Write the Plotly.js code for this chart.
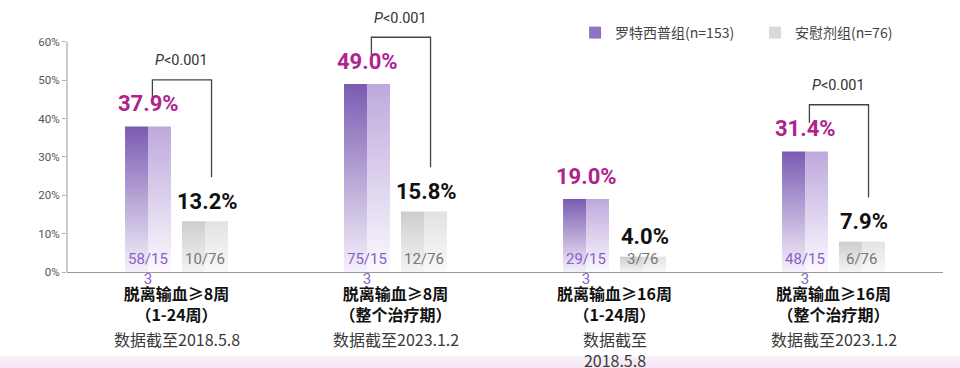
<!DOCTYPE html>
<html><head><meta charset="utf-8">
<script src="https://cdn.plot.ly/plotly-3.0.1.min.js"></script>
<style>
html,body{margin:0;padding:0;width:960px;height:368px;overflow:hidden;
background:linear-gradient(to bottom,#ffffff 0px,#ffffff 355px,#f8eff8 357px,#f3e7f3 368px);}
#chart{width:960px;height:368px;}
</style></head><body><div id="chart"></div>
<script>
const categories = ['脱离输血≥8周<br>（1-24周）','脱离输血≥8周<br>（整个治疗期）','脱离输血≥16周<br>（1-24周）','脱离输血≥16周<br>（整个治疗期）'];
const cutoffLabels = ['数据截至2018.5.8','数据截至2023.1.2','数据截至<br>2018.5.8','数据截至2023.1.2'];
const seriesNames = ['罗特西普组(n=153)','安慰剂组(n=76)'];
const luspaterceptPct = [37.9, 49.0, 19.0, 31.4];
const placeboPct = [13.2, 15.8, 4.0, 7.9];
const luspaterceptN = [58, 75, 29, 48];
const placeboN = [10, 12, 3, 6];
const luspaterceptTotal = 153;
const placeboTotal = 76;
const pValues = ['P<0.001', 'P<0.001', '', 'P<0.001'];
const yTicks = [0, 10, 20, 30, 40, 50, 60];

const idx = categories.map((c, i) => i);
const W = 0.105;
function barTrace(y, offset, color, name, showlegend) {
  return {type: 'bar', x: idx, y: y, offset: offset, width: W,
    marker: {color: color, line: {width: 0}}, name: name, showlegend: showlegend,
    legendgroup: name, hoverinfo: 'skip'};
}
const data = [
  barTrace(luspaterceptPct, -0.235, '#8f74c4', seriesNames[0], true),
  barTrace(luspaterceptPct, -0.13, '#c4b4e0', seriesNames[0], false),
  barTrace(placeboPct, 0.025, '#d9d9d9', seriesNames[1], true),
  barTrace(placeboPct, 0.13, '#e6e6e6', seriesNames[1], false)
];

function wrapFrac(t) { return t.length > 5 ? t.slice(0, 5) + '<br>' + t.slice(5) : t; }
const numFont = 'Roboto, "Noto Sans", sans-serif';
const annotations = [];
const shapes = [];
idx.forEach(i => {
  const a = luspaterceptPct[i], b = placeboPct[i];
  annotations.push({x: i - 0.13, y: a, xref: 'x', yref: 'y', yshift: 23, yanchor: 'middle', showarrow: false,
    text: a.toFixed(1) + '%', font: {family: numFont, size: 22, color: '#b0238f', weight: 'bold'}});
  annotations.push({x: i + 0.14, y: b, xref: 'x', yref: 'y', yshift: 20, yanchor: 'middle', showarrow: false,
    text: b.toFixed(1) + '%', font: {family: numFont, size: 22, color: '#111111', weight: 'bold'}});
  annotations.push({x: i - 0.13, y: 0, xref: 'x', yref: 'y', yshift: 23, yanchor: 'top', showarrow: false, borderpad: 0,
    text: wrapFrac(luspaterceptN[i] + '/' + luspaterceptTotal), font: {family: numFont, size: 15, color: '#8a5fc6'}});
  annotations.push({x: i + 0.13, y: 0, xref: 'x', yref: 'y', yshift: 23, yanchor: 'top', showarrow: false, borderpad: 0,
    text: wrapFrac(placeboN[i] + '/' + placeboTotal), font: {family: numFont, size: 15, color: '#777777'}});
  annotations.push({x: i, y: 0, xref: 'x', yref: 'paper', yshift: -53, yanchor: 'top', showarrow: false,
    text: cutoffLabels[i], font: {size: 16, color: '#3a3a3a'}});
  if (pValues[i]) {
    const top = Math.max(a, b) + 12.2;
    const lx = i - 0.11, rx = i + 0.16;
    shapes.push({type: 'path', xref: 'x', yref: 'y',
      path: 'M' + lx + ',' + (a + 7.5) + ' L' + lx + ',' + top + ' L' + rx + ',' + top + ' L' + rx + ',' + (b + 11.5),
      line: {color: '#444444', width: 1.3}});
    annotations.push({x: (lx + rx) / 2, y: top, xref: 'x', yref: 'y', yshift: 19, yanchor: 'middle', showarrow: false,
      text: '<i>P</i>' + pValues[i].slice(1).replace('<', '&lt;'), font: {family: numFont, size: 14.5, color: '#333333'}});
  }
});
shapes.push({type: 'line', xref: 'paper', x0: 0, x1: 0, yref: 'y', y0: 0, y1: yTicks[yTicks.length - 1],
  line: {color: '#b0b0b0', width: 1.3}});

const layout = {
  width: 960, height: 368,
  margin: {l: 67, r: 17, t: 15, b: 96},
  paper_bgcolor: 'rgba(0,0,0,0)', plot_bgcolor: 'rgba(0,0,0,0)',
  barmode: 'overlay',
  font: {family: '"Noto Sans CJK SC", Roboto, sans-serif'},
  xaxis: {range: [-0.5, 3.5], tickvals: idx, ticktext: categories, showline: true, linecolor: '#9a9a9a', linewidth: 1.2,
    ticks: '', showgrid: false, zeroline: false, tickfont: {size: 16, color: '#111111', weight: 'bold'}, ticklabelstandoff: 8},
  yaxis: {range: [0, 67], tickvals: yTicks, ticktext: yTicks.map(v => v + '%'), showgrid: false, zeroline: false,
    showline: false, ticks: 'outside', ticklen: 4, tickcolor: '#b0b0b0',
    tickfont: {size: 11.5, color: '#555555', family: numFont}},
  showlegend: true,
  legend: {orientation: 'h', x: 0.58, xanchor: 'left', y: 0.93, yanchor: 'middle', entrywidth: 135,
    font: {size: 14, color: '#444444'}, bgcolor: 'rgba(0,0,0,0)'},
  annotations: annotations, shapes: shapes
};

const grads = [
  ['gPL', '#7a5bb2', '#f5f1fa'],
  ['gPR', '#bda9dc', '#fbf9fe'],
  ['gGL', '#cdcdcd', '#f4f4f4'],
  ['gGR', '#e2e2e2', '#f9f9f9']
];
const gd = document.getElementById('chart');
Plotly.newPlot(gd, data, layout, {displayModeBar: false, staticPlot: true}).then(() => {
  const NS = 'http://www.w3.org/2000/svg';
  const svg = gd.querySelector('svg.main-svg');
  let defs = svg.querySelector('defs');
  if (!defs) { defs = document.createElementNS(NS, 'defs'); svg.insertBefore(defs, svg.firstChild); }
  grads.forEach(([id, top, bot]) => {
    const lg = document.createElementNS(NS, 'linearGradient');
    lg.setAttribute('id', id);
    lg.setAttribute('x1', '0'); lg.setAttribute('y1', '0'); lg.setAttribute('x2', '0'); lg.setAttribute('y2', '1');
    [[0, top], [1, bot]].forEach(([o, c]) => {
      const s = document.createElementNS(NS, 'stop');
      s.setAttribute('offset', o); s.setAttribute('stop-color', c); lg.appendChild(s);
    });
    defs.appendChild(lg);
  });
  gd.querySelectorAll('.barlayer .trace').forEach((t, i) => {
    t.querySelectorAll('path').forEach(p => { p.style.fill = 'url(#' + grads[i][0] + ')'; });
  });
});
</script></body></html>
